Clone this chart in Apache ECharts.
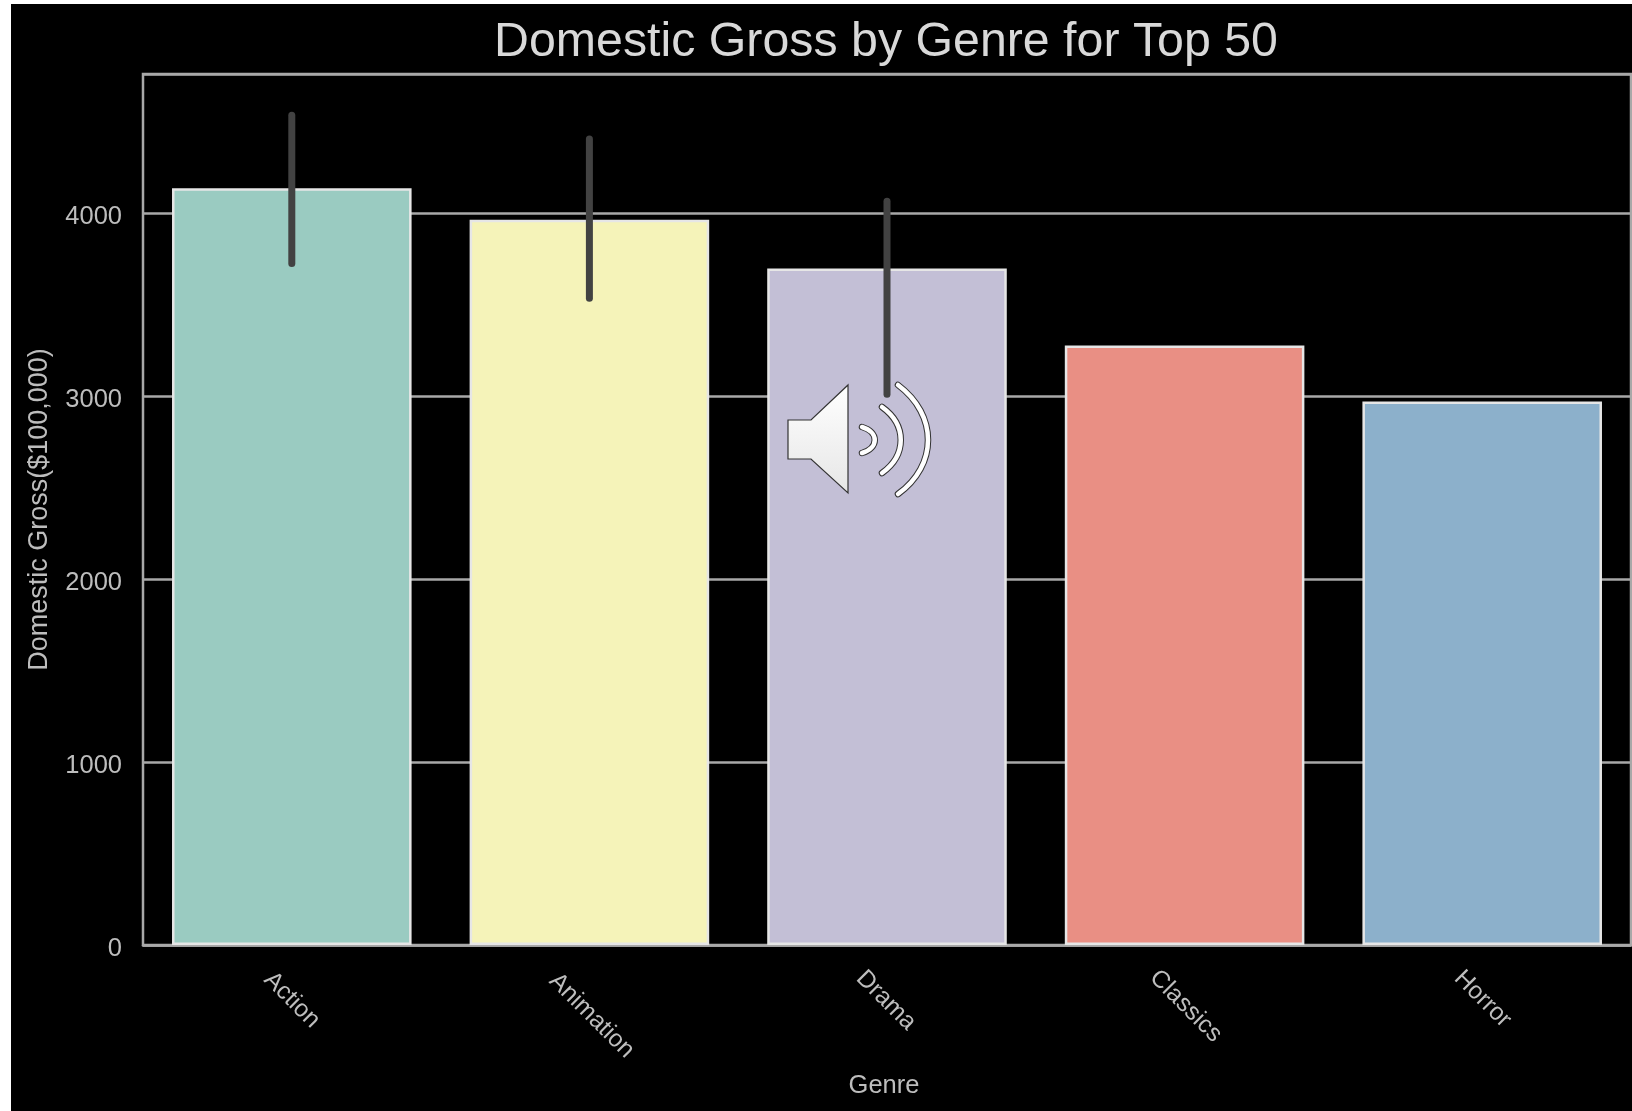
<!DOCTYPE html>
<html>
<head>
<meta charset="utf-8">
<style>
html,body{margin:0;padding:0;background:#fff;width:1632px;height:1111px;overflow:hidden}
#bg{position:absolute;left:11px;top:4px;width:1621px;height:1107px;background:#000}
#c{position:absolute;left:0;top:0;width:1632px;height:1111px;filter:blur(0.7px)}
</style>
<script src="https://cdn.jsdelivr.net/npm/echarts@6/dist/echarts.min.js"></script>
</head>
<body>
<div id="bg"></div>
<div id="c"></div>
<script>
const categories = ['Action','Animation','Drama','Classics','Horror'];
const grossValues = [4135,3964,3697,3276,2970];
const errLow = [3725,3535,3010];
const errHigh = [4535,4405,4065];
const barColors = ['#9acbc1','#f5f3b9','#c3bfd6','#e98f84','#8cb0cb'];
const labelPadLeft = [3,28,2,13,2];
const labelLineHeight = [3,22,5,10,1];
const FONT = '"Liberation Sans", Arial, sans-serif';

const arc = (a,color,w,z) => ({
  type:'bezierCurve', silent:true, z:z,
  shape:{x1:a[0],y1:a[1],cpx1:a[2],cpy1:a[3],cpx2:a[4],cpy2:a[5],x2:a[6],y2:a[7]},
  style:{stroke:color,lineWidth:w,lineCap:'round',fill:null}
});
const arcs = [[862,427,879,432,879,448,862,453],[882,407,907,425,907,455,882,473],[898,385,938,415,938,465,898,494]];
const speaker = [
  {type:'polygon',silent:true,z:100,
   shape:{points:[[788,420],[811,420],[848,385],[848,493],[811,459],[788,459]]},
   style:{stroke:'#333',lineWidth:1.2,
     fill:{type:'linear',x:0,y:0,x2:0,y2:1,colorStops:[{offset:0,color:'#ffffff'},{offset:1,color:'#e6e6e6'}]}}}
];
arcs.forEach(a => speaker.push(arc(a,'#333',6.5,100)));
arcs.forEach(a => speaker.push(arc(a,'#fff',4.5,101)));

const chart = echarts.init(document.getElementById('c'),null,{renderer:'canvas'});
chart.setOption({
  backgroundColor:'transparent',
  animation:false,
  title:{text:'Domestic Gross by Genre for Top 50',left:881,top:14,textAlign:'center',
    textStyle:{color:'#d9d9d9',fontSize:48.3,fontWeight:'normal',fontFamily:FONT}},
  grid:{left:143,top:74,right:1,bottom:166,outerBoundsMode:'none',show:true,borderColor:'#a8a8a8',borderWidth:2.5,backgroundColor:'transparent'},
  xAxis:{type:'category',
    data:categories.map((c,i)=>({value:c,textStyle:{align:'center',verticalAlign:'top',lineHeight:labelLineHeight[i],padding:[0,0,0,labelPadLeft[i]]}})),
    axisTick:{show:false},
    axisLine:{show:true,lineStyle:{color:'#a8a8a8',width:2.5}},
    axisLabel:{interval:0,rotate:-45,margin:53,
      color:'#bdbdbd',fontSize:24.5,fontFamily:FONT},
    name:'Genre',nameLocation:'middle',nameGap:128,
    nameTextStyle:{color:'#bdbdbd',fontSize:25.5,fontFamily:FONT,padding:[0,6,0,0]}},
  yAxis:{type:'value',min:0,max:4760,interval:1000,
    axisLine:{show:false},axisTick:{show:false},
    splitLine:{show:true,lineStyle:{color:'#a8a8a8',width:2.5}},
    axisLabel:{margin:21,color:'#bdbdbd',fontSize:25.5,fontFamily:FONT,showMaxLabel:false,formatter:v=>String(v),verticalAlign:'top',lineHeight:8},
    name:'Domestic Gross($100,000)',nameLocation:'middle',nameGap:90,
    nameTextStyle:{color:'#bdbdbd',fontSize:27,fontFamily:FONT}},
  series:[
    {type:'bar',barWidth:'80.5%',z:3,
     data:grossValues.map((v,i)=>({value:v,itemStyle:{color:barColors[i],borderColor:'#e6e6e6',borderWidth:2.5}}))},
    {type:'custom',z:5,silent:true,
     data:errLow.map((l,i)=>[i,l,errHigh[i]]),
     encode:{x:0,y:[1,2]},
     renderItem:(params,api)=>{
       const a=api.coord([api.value(0),api.value(1)]);
       const b=api.coord([api.value(0),api.value(2)]);
       return {type:'line',shape:{x1:a[0],y1:a[1],x2:b[0],y2:b[1]},
         style:{stroke:'#424242',lineWidth:7,lineCap:'round'}};
     }}
  ],
  graphic:{elements:speaker}
});
</script>
</body>
</html>
